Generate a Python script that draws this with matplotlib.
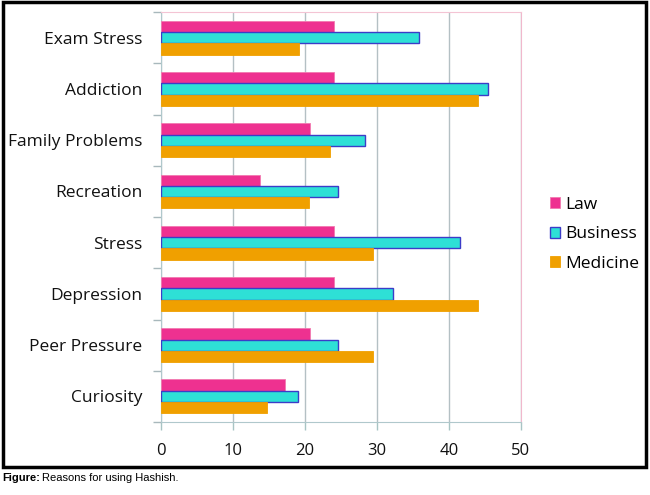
import numpy as np
import matplotlib
matplotlib.use("Agg")
import matplotlib.pyplot as plt
from matplotlib.patches import Rectangle

categories = ["Exam Stress", "Addiction", "Family Problems", "Recreation",
              "Stress", "Depression", "Peer Pressure", "Curiosity"]
law = [24.0, 24.0, 20.7, 13.8, 24.0, 24.0, 20.7, 17.2]
business = [35.8, 45.4, 28.3, 24.6, 41.5, 32.2, 24.6, 19.0]
medicine = [19.2, 44.1, 23.5, 20.6, 29.4, 44.1, 29.4, 14.7]
xticks = [0, 10, 20, 30, 40, 50]

plt.rcParams['font.family'] = ['Open Sans', 'DejaVu Sans']

fig = plt.figure(figsize=(6.5, 4.95), dpi=100)
ax = fig.add_axes([0.2477, 0.1475, 0.5538, 0.828])

y = np.arange(len(categories))
h = 0.22
ax.barh(y - h, law, height=h, color='#ee3190', edgecolor='#f27ab0', lw=0.6, label='Law', zorder=3)
ax.barh(y, business, height=h, color='#2ee0d6', edgecolor='#3c3cc8', lw=1.0, label='Business', zorder=3)
ax.barh(y + h, medicine, height=h, color='#f0a000', edgecolor='#f0a000', lw=0.6, label='Medicine', zorder=3)

ax.set_ylim(len(categories) - 0.5, -0.5)
ax.set_xlim(0, 50)
ax.set_yticks(y)
ax.set_yticklabels(categories, fontsize=12.5, color='#111111')
ax.set_yticks(np.arange(-0.5, len(categories), 1), minor=True)
ax.tick_params(axis='y', which='major', length=0, pad=13.5)
ax.tick_params(axis='y', which='minor', length=6, color='#a8b8bc', width=1)
ax.set_xticks(xticks)
ax.set_xticklabels([str(t) for t in xticks], fontsize=12, color='#111111')
ax.tick_params(axis='x', length=6, color='#a8c4c4', width=1, pad=9)

ax.grid(axis='x', color='#b4c0c4', lw=1, zorder=0)
ax.spines['left'].set_color('#b0c8cc')
ax.spines['bottom'].set_color('#b0c8cc')
ax.spines['top'].set_color('#f4c4d4')
ax.spines['right'].set_color('#f0b8cc')

leg = ax.legend(loc='center left', bbox_to_anchor=(1.06, 0.458), frameon=False,
                fontsize=12.5, handlelength=0.62, handleheight=0.62, labelspacing=0.78,
                handletextpad=0.3, borderaxespad=0)

# outer frame
fig.patches.append(Rectangle((0.004, 0.057), 0.99, 0.938, transform=fig.transFigure,
                             fill=False, edgecolor='black', lw=2.5))

fig.text(0.004, 0.034, "Figure:", fontsize=8, fontweight='bold',
         family=['Liberation Sans Narrow', 'Liberation Sans'], va='center')
fig.text(0.064, 0.034, "Reasons for using Hashish.", fontsize=8,
         family=['Liberation Sans Narrow', 'Liberation Sans'], va='center')

fig.savefig("out.png", dpi=100)
